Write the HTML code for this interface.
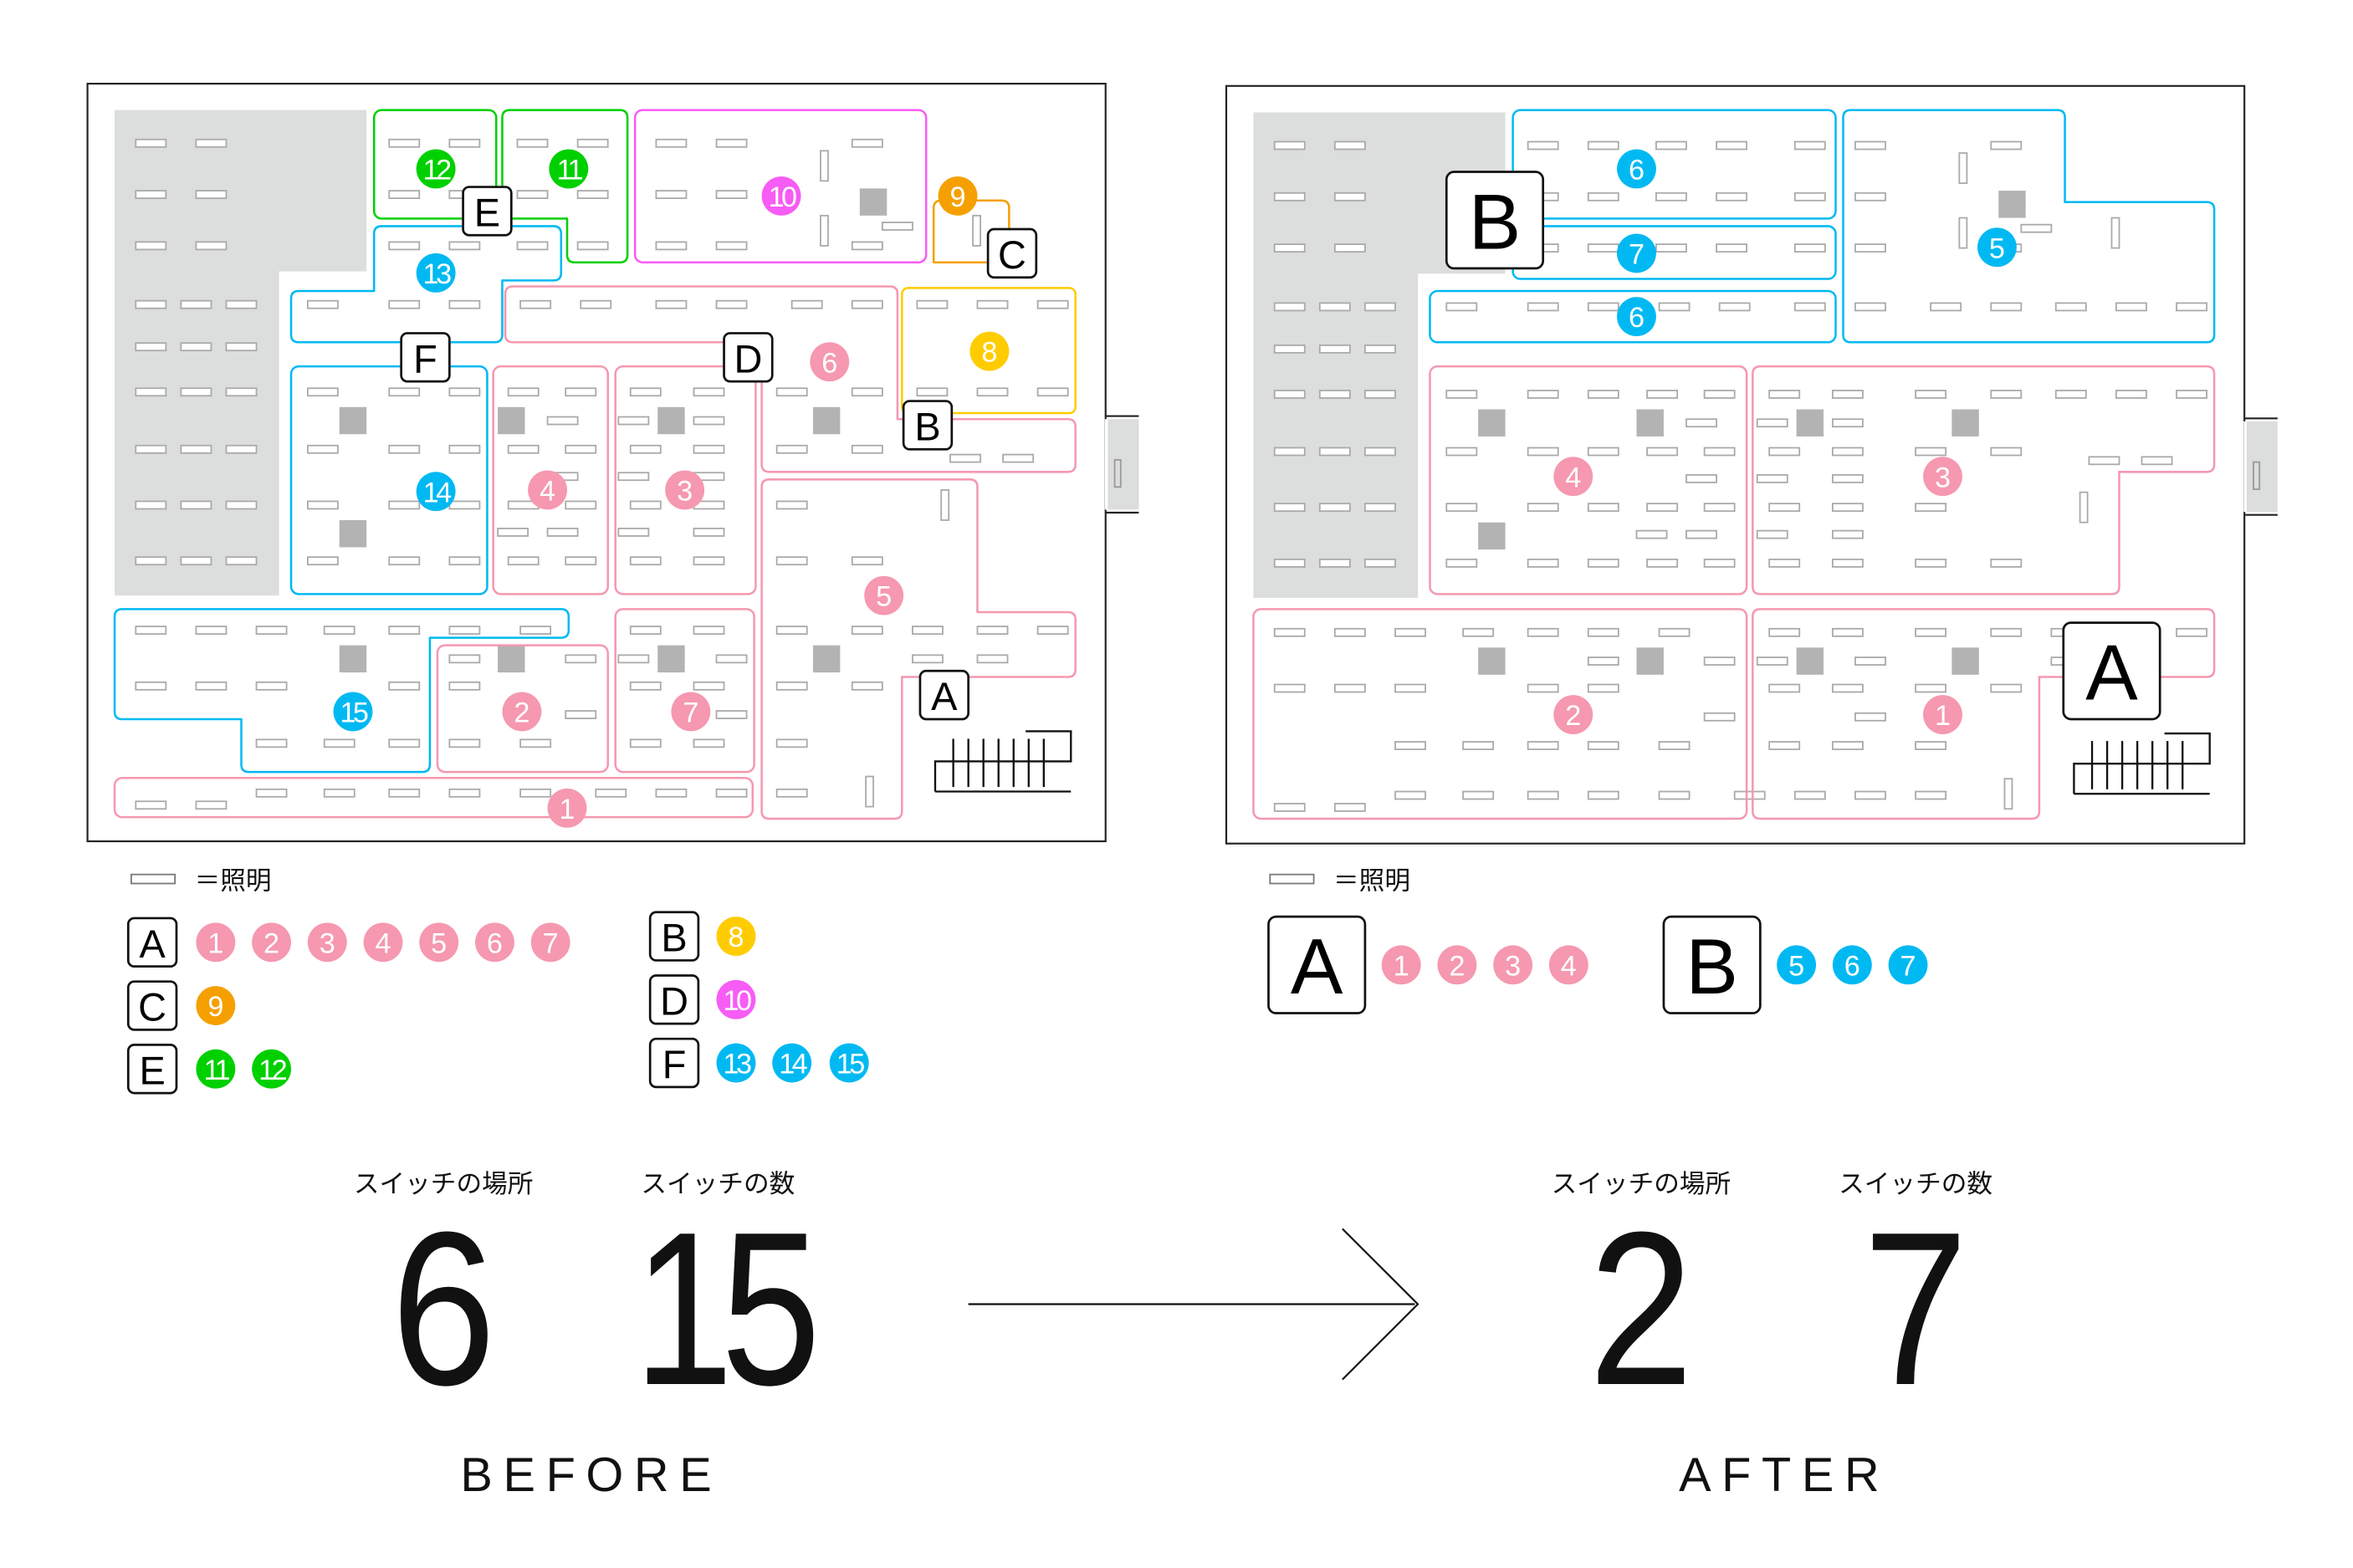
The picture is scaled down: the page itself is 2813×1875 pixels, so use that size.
<!DOCTYPE html>
<html><head><meta charset="utf-8"><style>
html,body{margin:0;padding:0;background:#fff;}
svg{display:block;}
text{font-family:"Liberation Sans","Noto Sans CJK JP",sans-serif;}
</style></head><body>
<svg width="2813" height="1875" viewBox="0 0 1560 1040" preserveAspectRatio="none" xmlns="http://www.w3.org/2000/svg">
<defs>
<rect id="l" width="20" height="5" fill="#fff" stroke="#aaa" stroke-width="1"/>
<rect id="v" width="5" height="20" fill="#fff" stroke="#aaa" stroke-width="1"/>
<rect id="sq" width="18" height="18" fill="#b3b3b3"/>
<g id="base">
<rect x="58" y="55.5" width="675" height="502.5" fill="#fff" stroke="#222" stroke-width="1.2"/>
<rect x="733" y="278" width="22" height="60" fill="#dcdddd"/>
<line x1="733" y1="276" x2="755" y2="276" stroke="#222" stroke-width="1.2"/>
<line x1="733" y1="340" x2="755" y2="340" stroke="#222" stroke-width="1.2"/>
<rect x="739" y="305" width="4" height="18" fill="none" stroke="#999"/>
<line x1="733.5" y1="278" x2="733.5" y2="338" stroke="#fff" stroke-width="2"/>
<polygon points="76,73 243,73 243,180 185,180 185,395 76,395" fill="#dcdddd"/>
<g transform="translate(0,-2.5)">
<use href="#l" x="90" y="95"/><use href="#l" x="130" y="95"/>
<use href="#l" x="90" y="129"/><use href="#l" x="130" y="129"/>
<use href="#l" x="90" y="163"/><use href="#l" x="130" y="163"/>
<use href="#l" x="90" y="202"/><use href="#l" x="120" y="202"/><use href="#l" x="150" y="202"/>
<use href="#l" x="90" y="230"/><use href="#l" x="120" y="230"/><use href="#l" x="150" y="230"/>
<use href="#l" x="90" y="260"/><use href="#l" x="120" y="260"/><use href="#l" x="150" y="260"/>
<use href="#l" x="90" y="298"/><use href="#l" x="120" y="298"/><use href="#l" x="150" y="298"/>
<use href="#l" x="90" y="335"/><use href="#l" x="120" y="335"/><use href="#l" x="150" y="335"/>
<use href="#l" x="90" y="372"/><use href="#l" x="120" y="372"/><use href="#l" x="150" y="372"/>
<use href="#l" x="258" y="95"/><use href="#l" x="298" y="95"/><use href="#l" x="258" y="129"/><use href="#l" x="298" y="129"/>
<use href="#l" x="343" y="95"/><use href="#l" x="383" y="95"/><use href="#l" x="343" y="129"/><use href="#l" x="383" y="129"/><use href="#l" x="383" y="163"/>
<use href="#l" x="258" y="163"/><use href="#l" x="298" y="163"/><use href="#l" x="343" y="163"/>
<use href="#l" x="204" y="202"/><use href="#l" x="258" y="202"/><use href="#l" x="298" y="202"/>
<use href="#l" x="435" y="95"/><use href="#l" x="475" y="95"/><use href="#l" x="565" y="95"/>
<use href="#l" x="435" y="129"/><use href="#l" x="475" y="129"/>
<use href="#l" x="435" y="163"/><use href="#l" x="475" y="163"/><use href="#l" x="565" y="163"/>
<use href="#l" x="585" y="150"/>
<use href="#l" x="345" y="202"/><use href="#l" x="385" y="202"/><use href="#l" x="435" y="202"/><use href="#l" x="475" y="202"/><use href="#l" x="525" y="202"/><use href="#l" x="565" y="202"/>
<use href="#l" x="608" y="202"/><use href="#l" x="648" y="202"/><use href="#l" x="688" y="202"/>
<use href="#l" x="608" y="260"/><use href="#l" x="648" y="260"/><use href="#l" x="688" y="260"/>
<use href="#l" x="515" y="260"/><use href="#l" x="565" y="260"/><use href="#l" x="515" y="298"/><use href="#l" x="565" y="298"/><use href="#l" x="630" y="304"/><use href="#l" x="665" y="304"/>
<use href="#l" x="204" y="260"/><use href="#l" x="258" y="260"/><use href="#l" x="298" y="260"/>
<use href="#l" x="204" y="298"/><use href="#l" x="258" y="298"/><use href="#l" x="298" y="298"/>
<use href="#l" x="204" y="335"/><use href="#l" x="258" y="335"/><use href="#l" x="298" y="335"/>
<use href="#l" x="204" y="372"/><use href="#l" x="258" y="372"/><use href="#l" x="298" y="372"/>
<use href="#l" x="337" y="260"/><use href="#l" x="375" y="260"/><use href="#l" x="363" y="279"/>
<use href="#l" x="337" y="298"/><use href="#l" x="375" y="298"/><use href="#l" x="363" y="316"/>
<use href="#l" x="337" y="335"/><use href="#l" x="375" y="335"/><use href="#l" x="330" y="353"/><use href="#l" x="363" y="353"/>
<use href="#l" x="337" y="372"/><use href="#l" x="375" y="372"/>
<use href="#l" x="418" y="260"/><use href="#l" x="460" y="260"/><use href="#l" x="410" y="279"/><use href="#l" x="460" y="279"/>
<use href="#l" x="418" y="298"/><use href="#l" x="460" y="298"/><use href="#l" x="410" y="316"/><use href="#l" x="460" y="316"/>
<use href="#l" x="418" y="335"/><use href="#l" x="460" y="335"/><use href="#l" x="410" y="353"/><use href="#l" x="460" y="353"/>
<use href="#l" x="418" y="372"/><use href="#l" x="460" y="372"/>
<use href="#l" x="515" y="335"/><use href="#l" x="515" y="372"/><use href="#l" x="565" y="372"/>
<use href="#l" x="515" y="418"/><use href="#l" x="565" y="418"/><use href="#l" x="605" y="418"/><use href="#l" x="648" y="418"/><use href="#l" x="688" y="418"/>
<use href="#l" x="605" y="437"/><use href="#l" x="648" y="437"/>
<use href="#l" x="515" y="455"/><use href="#l" x="565" y="455"/>
<use href="#l" x="515" y="493"/><use href="#l" x="515" y="526"/>
<use href="#l" x="90" y="418"/><use href="#l" x="130" y="418"/><use href="#l" x="170" y="418"/><use href="#l" x="215" y="418"/><use href="#l" x="258" y="418"/><use href="#l" x="298" y="418"/><use href="#l" x="345" y="418"/>
<use href="#l" x="90" y="455"/><use href="#l" x="130" y="455"/><use href="#l" x="170" y="455"/><use href="#l" x="258" y="455"/>
<use href="#l" x="170" y="493"/><use href="#l" x="215" y="493"/><use href="#l" x="258" y="493"/>
<use href="#l" x="298" y="437"/><use href="#l" x="375" y="437"/><use href="#l" x="298" y="455"/><use href="#l" x="375" y="474"/><use href="#l" x="298" y="493"/><use href="#l" x="345" y="493"/>
<use href="#l" x="418" y="418"/><use href="#l" x="460" y="418"/><use href="#l" x="410" y="437"/><use href="#l" x="475" y="437"/>
<use href="#l" x="418" y="455"/><use href="#l" x="460" y="455"/><use href="#l" x="475" y="474"/><use href="#l" x="418" y="493"/><use href="#l" x="460" y="493"/>
<use href="#l" x="90" y="534"/><use href="#l" x="130" y="534"/><use href="#l" x="170" y="526"/><use href="#l" x="215" y="526"/><use href="#l" x="258" y="526"/><use href="#l" x="298" y="526"/><use href="#l" x="345" y="526"/><use href="#l" x="395" y="526"/><use href="#l" x="435" y="526"/><use href="#l" x="475" y="526"/>
</g>
<use href="#v" x="544" y="100"/><use href="#v" x="544" y="143"/><use href="#v" x="624" y="325"/><use href="#v" x="574" y="515"/><use href="#v" x="645" y="143"/>
<use href="#sq" x="225" y="270"/><use href="#sq" x="225" y="345"/><use href="#sq" x="330" y="270"/><use href="#sq" x="436" y="270"/><use href="#sq" x="539" y="270"/>
<use href="#sq" x="225" y="428"/><use href="#sq" x="330" y="428"/><use href="#sq" x="436" y="428"/><use href="#sq" x="539" y="428"/><use href="#sq" x="570" y="125"/>
<g stroke="#111" stroke-width="1.3" fill="none">
<polyline points="620,525 620,505 710,505 710,485 680,485"/>
<line x1="620" y1="525" x2="710" y2="525"/>
<line x1="632" y1="490" x2="632" y2="522"/><line x1="642" y1="490" x2="642" y2="522"/><line x1="652" y1="490" x2="652" y2="522"/>
<line x1="662" y1="490" x2="662" y2="522"/><line x1="672" y1="490" x2="672" y2="522"/><line x1="682" y1="490" x2="682" y2="522"/><line x1="692" y1="490" x2="692" y2="522"/>
</g>
</g>
</defs>

<use href="#base"/>
<use href="#base" transform="translate(755,1.5)"/>

<g fill="none" stroke-width="1.4" stroke-linejoin="round">
<rect x="248" y="73" width="81" height="72" rx="5" stroke="#00d000"/>
<path d="M333,78 q0,-5 5,-5 h73 q5,0 5,5 v91 q0,5 -5,5 h-30 q-5,0 -5,-5 v-24 h-43 z" stroke="#00d000"/>
<path d="M253,150 h114 q5,0 5,5 v26 q0,5 -5,5 h-34 v36 q0,5 -5,5 h-130 q-5,0 -5,-5 v-24 q0,-5 5,-5 h50 v-38 q0,-5 5,-5 z" stroke="#00b9f2"/>
<rect x="193" y="243" width="130" height="151" rx="5" stroke="#00b9f2"/>
<path d="M81,404 h291 q5,0 5,5 v9 q0,5 -5,5 h-87 v84 q0,5 -5,5 h-115 q-5,0 -5,-5 v-30 h-79 q-5,0 -5,-5 v-63 q0,-5 5,-5 z" stroke="#00b9f2"/>
<rect x="421" y="73" width="193" height="101" rx="5" stroke="#f75cf5"/>
<path d="M619,138 q0,-5 5,-5 h40 q5,0 5,5 v36 h-50 z" stroke="#f5a000"/>
<rect x="598" y="191" width="115" height="83" rx="4" stroke="#ffcc00"/>
<g stroke="#f598b0">
<path d="M340,190 h250 q5,0 5,5 v83 h113 q5,0 5,5 v25 q0,5 -5,5 h-198 q-5,0 -5,-5 v-81 h-165 q-5,0 -5,-5 v-27 q0,-5 5,-5 z"/>
<rect x="327" y="243" width="76" height="151" rx="5"/>
<rect x="408" y="243" width="93" height="151" rx="5"/>
<rect x="290" y="428" width="113" height="84" rx="5"/>
<rect x="408" y="404" width="92" height="108" rx="5"/>
<path d="M510,318 h133 q5,0 5,5 v83 h60 q5,0 5,5 v33 q0,5 -5,5 h-110 v89 q0,5 -5,5 h-83 q-5,0 -5,-5 v-215 q0,-5 5,-5 z"/>
<rect x="76" y="516" width="423" height="26" rx="5"/>
</g>
</g>

<g fill="none" stroke-width="1.4">
<g stroke="#00b9f2">
<rect x="1003" y="73" width="214" height="72" rx="5"/>
<rect x="1003" y="150" width="214" height="35" rx="5"/>
<rect x="948" y="193" width="269" height="34" rx="5"/>
<path d="M1227,73 h137 q5,0 5,5 v56 h94 q5,0 5,5 v83 q0,5 -5,5 h-236 q-5,0 -5,-5 v-144 q0,-5 5,-5 z"/>
</g>
<g stroke="#f598b0">
<rect x="948" y="243" width="210" height="151" rx="5"/>
<path d="M1167,243 h296 q5,0 5,5 v60 q0,5 -5,5 h-58 v76 q0,5 -5,5 h-233 q-5,0 -5,-5 v-141 q0,-5 5,-5 z"/>
<rect x="831" y="404" width="327" height="139" rx="5"/>
<path d="M1167,404 h296 q5,0 5,5 v35 q0,5 -5,5 h-111 v89 q0,5 -5,5 h-180 q-5,0 -5,-5 v-129 q0,-5 5,-5 z"/>
</g>
</g>

<g font-size="19" fill="#fff" text-anchor="middle">
<g fill="#00d000"><circle cx="289" cy="112" r="13"/><circle cx="377" cy="112" r="13"/><circle cx="143" cy="709" r="13"/><circle cx="180" cy="709" r="13"/></g>
<g fill="#00b9f2"><circle cx="289" cy="181" r="13"/><circle cx="289" cy="326" r="13"/><circle cx="234" cy="472" r="13"/>
<circle cx="488" cy="705" r="13"/><circle cx="525" cy="705" r="13"/><circle cx="563" cy="705" r="13"/>
<circle cx="1085" cy="112" r="13"/><circle cx="1085" cy="168" r="13"/><circle cx="1085" cy="210" r="13"/><circle cx="1324" cy="164" r="13"/>
<circle cx="1191" cy="640" r="13"/><circle cx="1228" cy="640" r="13"/><circle cx="1265" cy="640" r="13"/></g>
<g fill="#f75cf5"><circle cx="518" cy="130" r="13"/><circle cx="488" cy="663" r="13"/></g>
<g fill="#f5a000"><circle cx="635" cy="130" r="13"/><circle cx="143" cy="667" r="13"/></g>
<g fill="#ffcc00"><circle cx="656" cy="233" r="13"/><circle cx="488" cy="621" r="13"/></g>
<g fill="#f598b0"><circle cx="550" cy="240" r="13"/><circle cx="363" cy="325" r="13"/><circle cx="454" cy="325" r="13"/><circle cx="586" cy="395" r="13"/>
<circle cx="346" cy="472" r="13"/><circle cx="458" cy="472" r="13"/><circle cx="376" cy="536" r="13"/>
<circle cx="143" cy="625" r="13"/><circle cx="180" cy="625" r="13"/><circle cx="217" cy="625" r="13"/><circle cx="254" cy="625" r="13"/><circle cx="291" cy="625" r="13"/><circle cx="328" cy="625" r="13"/><circle cx="365" cy="625" r="13"/>
<circle cx="1043" cy="316" r="13"/><circle cx="1288" cy="316" r="13"/><circle cx="1043" cy="474" r="13"/><circle cx="1288" cy="474" r="13"/>
<circle cx="929" cy="640" r="13"/><circle cx="966" cy="640" r="13"/><circle cx="1003" cy="640" r="13"/><circle cx="1040" cy="640" r="13"/></g>
<text x="289" y="119" letter-spacing="-2">12</text><text x="377" y="119" letter-spacing="-2">11</text>
<text x="143" y="716" letter-spacing="-2">11</text><text x="180" y="716" letter-spacing="-2">12</text>
<text x="289" y="188" letter-spacing="-2">13</text><text x="289" y="333" letter-spacing="-2">14</text><text x="234" y="479" letter-spacing="-2">15</text>
<text x="488" y="712" letter-spacing="-2">13</text><text x="525" y="712" letter-spacing="-2">14</text><text x="563" y="712" letter-spacing="-2">15</text>
<text x="1085" y="119">6</text><text x="1085" y="175">7</text><text x="1085" y="217">6</text><text x="1324" y="171">5</text>
<text x="1191" y="647">5</text><text x="1228" y="647">6</text><text x="1265" y="647">7</text>
<text x="518" y="137" letter-spacing="-2">10</text><text x="488" y="670" letter-spacing="-2">10</text>
<text x="635" y="137">9</text><text x="143" y="674">9</text>
<text x="656" y="240">8</text><text x="488" y="628">8</text>
<text x="550" y="247">6</text><text x="363" y="332">4</text><text x="454" y="332">3</text><text x="586" y="402">5</text>
<text x="346" y="479">2</text><text x="458" y="479">7</text><text x="376" y="543">1</text>
<text x="143" y="632">1</text><text x="180" y="632">2</text><text x="217" y="632">3</text><text x="254" y="632">4</text><text x="291" y="632">5</text><text x="328" y="632">6</text><text x="365" y="632">7</text>
<text x="1043" y="323">4</text><text x="1288" y="323">3</text><text x="1043" y="481">2</text><text x="1288" y="481">1</text>
<text x="929" y="647">1</text><text x="966" y="647">2</text><text x="1003" y="647">3</text><text x="1040" y="647">4</text>
</g>

<g fill="#fff" stroke="#111" stroke-width="1.5">
<rect x="307" y="124" width="32" height="32" rx="4"/>
<rect x="266" y="221" width="32" height="32" rx="4"/>
<rect x="480" y="221" width="32" height="32" rx="4"/>
<rect x="655" y="152" width="32" height="32" rx="4"/>
<rect x="599" y="266" width="32" height="32" rx="4"/>
<rect x="610" y="445" width="32" height="32" rx="4"/>
<rect x="85" y="609" width="32" height="32" rx="4"/>
<rect x="85" y="651" width="32" height="32" rx="4"/>
<rect x="85" y="693" width="32" height="32" rx="4"/>
<rect x="431" y="605" width="32" height="32" rx="4"/>
<rect x="431" y="647" width="32" height="32" rx="4"/>
<rect x="431" y="689" width="32" height="32" rx="4"/>
<rect x="959" y="114" width="64" height="64" rx="5"/>
<rect x="1368" y="413" width="64" height="64" rx="5"/>
<rect x="841" y="608" width="64" height="64" rx="5"/>
<rect x="1103" y="608" width="64" height="64" rx="5"/>
</g>
<g font-size="26" fill="#000" text-anchor="middle">
<text x="323" y="150">E</text><text x="282" y="247">F</text><text x="496" y="247">D</text><text x="671" y="178">C</text>
<text x="615" y="292">B</text><text x="626" y="471">A</text>
<text x="101" y="635">A</text><text x="101" y="677">C</text><text x="101" y="719">E</text>
<text x="447" y="631">B</text><text x="447" y="673">D</text><text x="447" y="715">F</text>
</g>
<g font-size="52" fill="#000" text-anchor="middle">
<text x="991" y="165">B</text><text x="1400" y="464">A</text><text x="873" y="659">A</text><text x="1135" y="659">B</text>
</g>

<rect x="87" y="580" width="29" height="6" fill="#fff" stroke="#777"/>
<rect x="842" y="580" width="29" height="6" fill="#fff" stroke="#777"/>
<text x="129" y="590" font-size="17" fill="#111">＝照明</text>
<text x="884" y="590" font-size="17" fill="#111">＝照明</text>

<g fill="#111" text-anchor="middle">
<text x="294" y="791" font-size="17">スイッチの場所</text>
<text x="476" y="791" font-size="17">スイッチの数</text>
<text x="1088" y="791" font-size="17">スイッチの場所</text>
<text x="1270" y="791" font-size="17">スイッチの数</text>
<text transform="translate(294,918) scale(0.86,1)" font-size="145">6</text>
<text transform="translate(478,918) scale(0.82,1)" font-size="145" letter-spacing="-10">15</text>
<text transform="translate(1088,918) scale(0.86,1)" font-size="145">2</text>
<text transform="translate(1270,918) scale(0.86,1)" font-size="145">7</text>
<text x="392" y="989" font-size="32" letter-spacing="7">BEFORE</text>
<text x="1183" y="989" font-size="32" letter-spacing="7">AFTER</text>
</g>
<g stroke="#111" stroke-width="1.2" fill="none">
<line x1="642" y1="865" x2="938" y2="865"/>
<polyline points="890,815 940,865 890,915"/>
</g>
</svg>
</body></html>
